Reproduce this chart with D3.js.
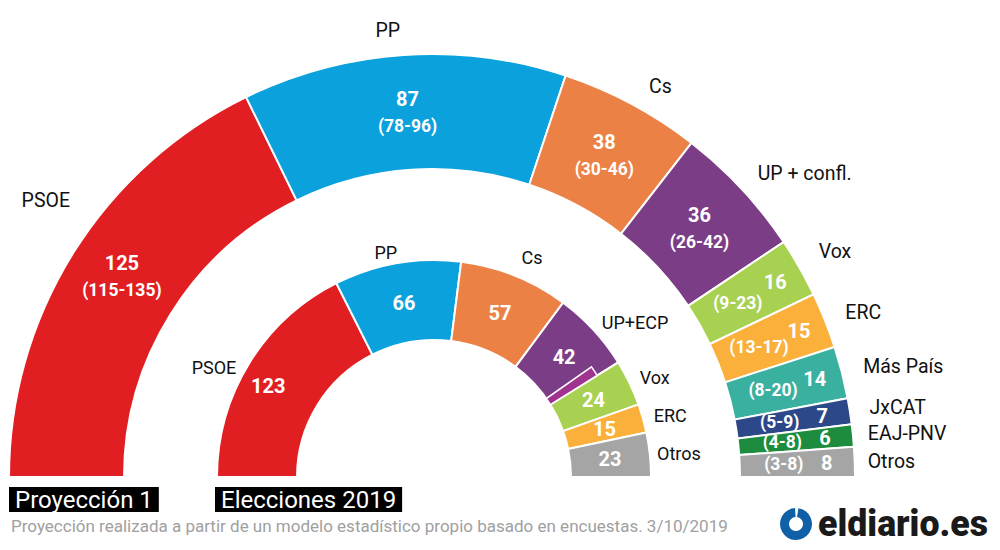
<!DOCTYPE html>
<html><head><meta charset="utf-8">
<script src="https://cdn.jsdelivr.net/npm/d3@7"></script>
<style>body{margin:0;background:#fff;} svg{display:block;font-family:Roboto, "Noto Sans", sans-serif;}</style>
</head><body><svg id="c" width="1000" height="550"></svg>
<script>
// ---- data ----
const projParties = ["PSOE","PP","Cs","UP + confl.","Vox","ERC","Más País","JxCAT","EAJ-PNV","Otros"];
const projSeats   = [125, 87, 38, 36, 16, 15, 14, 7, 6, 8];
const projRanges  = ["(115-135)","(78-96)","(30-46)","(26-42)","(9-23)","(13-17)","(8-20)","(5-9)","(4-8)","(3-8)"];
const projColors  = ["#e11f22","#0aa1dc","#ec8146","#7b3d85","#a8d152","#fbb03b","#3ab0a0","#2c4889","#1d8c3e","#a5a5a5"];

const elecParties = ["PSOE","PP","Cs","UP+ECP","Vox","ERC","Otros"];
const elecSeats   = [123, 66, 57, 42, 24, 15, 23];
const elecColors  = ["#e11f22","#0aa1dc","#ec8146","#7b3d85","#a8d152","#fbb03b","#a5a5a5"];
const elecSplitParty = "UP+ECP";
const elecSplitSeats = 6;
const elecSplitColor = "#a0338f";

const titles = ["Proyección 1","Elecciones 2019"];
const note = "Proyección realizada a partir de un modelo estadístico propio basado en encuestas. 3/10/2019";
const brand = "eldiario.es";

// ---- drawing ----
const svg = d3.select("#c");

function hemicycle(g, cfg) {
  const total = d3.sum(cfg.seats);
  const ang = d3.scaleLinear().domain([0, total]).range([-Math.PI/2, Math.PI/2]);
  const cum = d3.cumsum(cfg.seats);
  const segs = cfg.parties.map((p, i) => ({
    party: p, seats: cfg.seats[i], color: cfg.colors[i],
    range: cfg.ranges ? cfg.ranges[i] : null,
    a0: ang(cum[i] - cfg.seats[i]), a1: ang(cum[i])
  }));
  const arc = d3.arc().innerRadius(cfg.r).outerRadius(cfg.R);
  const pt = (a, rad) => [cfg.cx + rad*Math.sin(a), cfg.cy - rad*Math.cos(a)];

  g.selectAll("path.seg").data(segs).join("path")
    .attr("class","seg")
    .attr("transform", `translate(${cfg.cx},${cfg.cy})`)
    .attr("d", d => arc({startAngle: d.a0, endAngle: d.a1}))
    .attr("fill", d => d.color)
    .attr("stroke", "#fff").attr("stroke-width", 2);

  if (cfg.split) {
    const s = segs.find(d => d.party === cfg.split.party);
    const rOut = cfg.r + (cfg.R - cfg.r) * 0.69;
    g.append("path")
      .attr("transform", `translate(${cfg.cx},${cfg.cy})`)
      .attr("d", d3.arc().innerRadius(cfg.r).outerRadius(rOut)({startAngle: s.a1 - (ang(cfg.split.seats) - ang(0)), endAngle: s.a1}))
      .attr("fill", cfg.split.color).attr("stroke", "#fff").attr("stroke-width", 1.6);
  }

  // values
  const rc = (cfg.R + cfg.r) / 2;
  segs.forEach(d => {
    const am = (d.a0 + d.a1) / 2;
    const n = cfg.nudgeVal[d.party] || [0,0];
    if (!d.range) {
      const [x, y] = pt(am, rc);
      g.append("text").attr("x", x + n[0]).attr("y", y + n[1]).attr("text-anchor","middle")
        .attr("dominant-baseline","central").attr("fill","#fff").attr("font-weight",700)
        .attr("font-size", 20).text(d.seats);
    } else if (d.seats >= 30) {
      const [x, y] = pt(am, rc);
      g.append("text").attr("x", x + n[0]).attr("y", y - 13 + n[1]).attr("text-anchor","middle")
        .attr("dominant-baseline","central").attr("fill","#fff").attr("font-weight",700)
        .attr("font-size", 20).text(d.seats);
      g.append("text").attr("x", x + n[0]).attr("y", y + 14 + n[1]).attr("text-anchor","middle")
        .attr("dominant-baseline","central").attr("fill","#fff").attr("font-weight",700)
        .attr("font-size", 17.5).text(d.range);
    } else {
      const [x1, y1] = pt(am, cfg.R - 28);
      const [x2, y2] = pt(am, cfg.R - 71);
      g.append("text").attr("x", x1).attr("y", y1).attr("text-anchor","middle")
        .attr("dominant-baseline","central").attr("fill","#fff").attr("font-weight",700)
        .attr("font-size", 20).text(d.seats);
      g.append("text").attr("x", x2).attr("y", y2).attr("text-anchor","middle")
        .attr("dominant-baseline","central").attr("fill","#fff").attr("font-weight",700)
        .attr("font-size", 17.5).text(d.range);
    }
  });

  // party names
  segs.forEach(d => {
    const am = (d.a0 + d.a1) / 2;
    const fromLeft = (am + Math.PI/2) * 180 / Math.PI;
    let anchor, rad;
    if (fromLeft < 60) { anchor = "end"; rad = cfg.R * 1.07; }
    else if (fromLeft < 135) { anchor = "middle"; rad = cfg.R * 1.065; }
    else { anchor = "start"; rad = cfg.R * 1.052; }
    const [x, y] = pt(am, rad);
    const n = cfg.nudgeName[d.party] || [0,0];
    g.append("text").attr("x", x + n[0]).attr("y", y + n[1]).attr("text-anchor", anchor)
      .attr("dominant-baseline","central").attr("fill","#111")
      .attr("font-size", cfg.nameSize).text(d.party);
  });
}

hemicycle(svg.append("g"), {
  parties: projParties, seats: projSeats, colors: projColors, ranges: projRanges,
  cx: 432, cy: 477, R: 423, r: 308, nameSize: 19.5,
  nudgeName: {"PSOE":[22,-37], "PP":[-14,3], "Cs":[16,7], "Vox":[0,-5], "JxCAT":[-2,0], "EAJ-PNV":[-7,0], "Otros":[-9,0]},
  nudgeVal: {"PSOE":[0,-8]}
});
hemicycle(svg.append("g"), {
  parties: elecParties, seats: elecSeats, colors: elecColors, ranges: null,
  cx: 434, cy: 477, R: 217, r: 137, nameSize: 18,
  split: {party: elecSplitParty, seats: elecSplitSeats, color: elecSplitColor},
  nudgeName: {"PSOE":[0,12], "PP":[-9,3], "Cs":[12,-5], "Otros":[-4,0]},
  nudgeVal: {"PSOE":[-15,2]}
});

// titles
const tpos = [9, 215];
titles.forEach((t, i) => {
  const tx = svg.append("text").attr("x", tpos[i] + 6).attr("y", 508)
    .attr("fill","#fff").attr("font-size", 24).text(t);
  const w = tx.node().getComputedTextLength();
  svg.insert("rect", () => tx.node()).attr("x", tpos[i]).attr("y", 487)
    .attr("width", w + 12).attr("height", 25).attr("fill","#000");
});

svg.append("text").attr("x", 11).attr("y", 532).attr("fill","#a0a0a0")
  .attr("font-size", 17).text(note);

// logo
const lg = svg.append("g").attr("transform","translate(796,524)");
lg.append("path").attr("d", d3.arc().innerRadius(7).outerRadius(16)({startAngle: 0.15, endAngle: 2*Math.PI - 0.06}))
  .attr("fill","#1060a8");
svg.append("text").attr("x", 818).attr("y", 536).attr("fill","#1a1a1a")
  .attr("font-size", 36).attr("font-weight", 900).attr("textLength", 170)
  .attr("lengthAdjust","spacingAndGlyphs").text(brand);
</script>
</body></html>
